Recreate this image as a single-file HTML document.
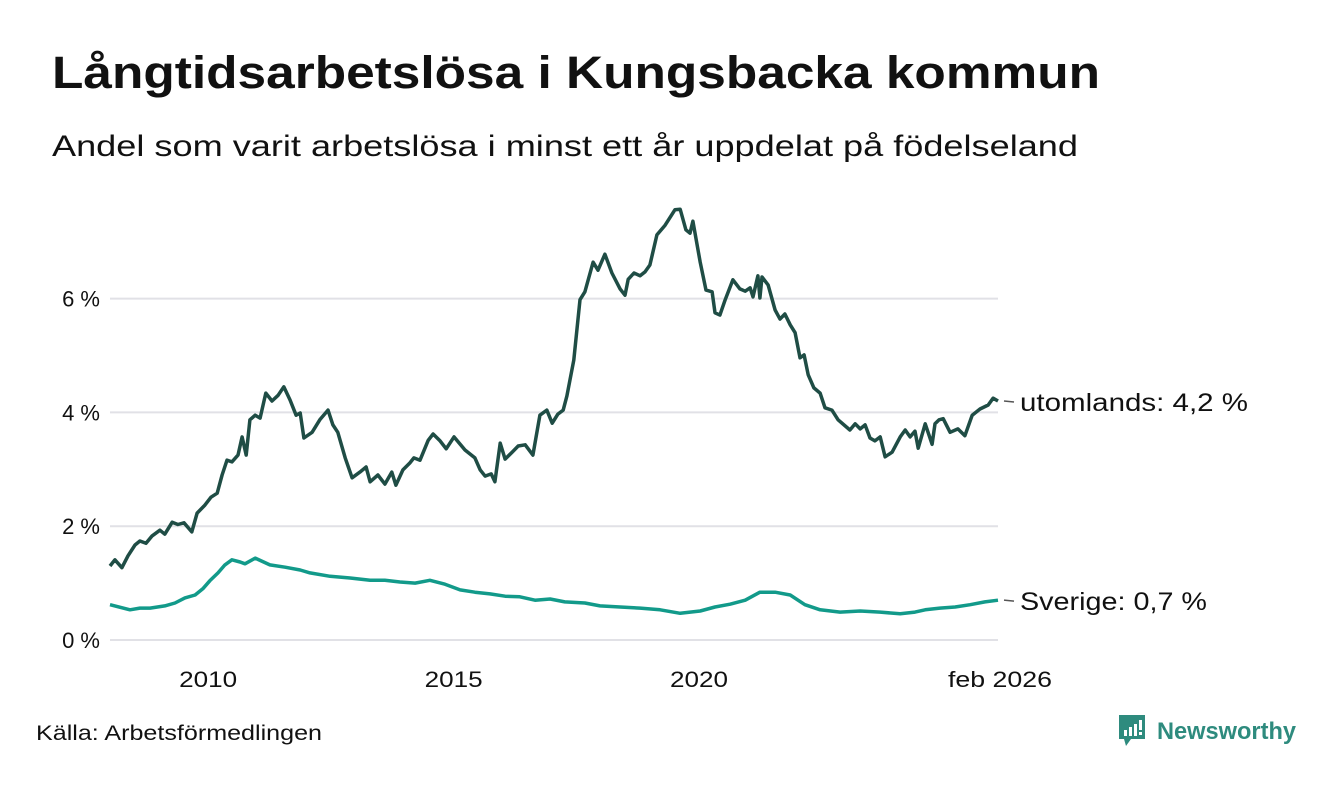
<!DOCTYPE html>
<html><head><meta charset="utf-8"><style>
body{margin:0;background:#fff;width:1340px;height:780px;overflow:hidden;font-family:"Liberation Sans",sans-serif;}
</style></head><body>
<svg width="1340" height="780" xmlns="http://www.w3.org/2000/svg" id="svg">
<text x="52" y="88" font-size="45" font-weight="bold" fill="#111" textLength="1048" lengthAdjust="spacingAndGlyphs">Långtidsarbetslösa i Kungsbacka kommun</text>
<text x="52" y="156" font-size="30" fill="#111" textLength="1026" lengthAdjust="spacingAndGlyphs">Andel som varit arbetslösa i minst ett år uppdelat på födelseland</text>
<g id="grid"></g><g id="lines"></g>
<text x="36" y="740" font-size="21" fill="#111" textLength="286" lengthAdjust="spacingAndGlyphs">Källa: Arbetsförmedlingen</text>
<g>
<path d="M1119 715h26v24h-14l-5 7-2-7h-5z" fill="#2e8b7e"/>
<rect x="1124" y="730" width="3" height="6" fill="#fff"/><rect x="1129" y="727" width="3" height="9" fill="#fff"/><rect x="1134" y="724" width="3" height="12" fill="#fff"/><rect x="1139" y="720" width="3" height="10" fill="#fff"/><rect x="1139" y="732" width="3" height="3" fill="#fff"/>
<text x="1157" y="739" font-size="24" font-weight="bold" fill="#2e8b7e" textLength="139" lengthAdjust="spacingAndGlyphs">Newsworthy</text>
</g>
</svg>
<script>
const yTicks=[0,2,4,6];
const yTickLabels=["0 %","2 %","4 %","6 %"];
const xTickMonths=[24,84,144,217.1];
const xTickLabels=["2010","2015","2020","feb 2026"];
const utMonths=[0,1.2,2.9,4.4,6.1,7.3,8.8,10.3,12.2,13.4,15.2,16.6,18.1,20,21.3,23.2,24.7,26.2,27.4,28.6,29.8,31.3,32.3,33.3,34.2,35.5,36.7,38.1,39.6,41.1,42.5,44,45.5,46.5,47.4,49.4,51.3,53.3,54.5,55.7,57.5,59.2,61.1,62.6,63.6,65.5,67.2,68.9,69.9,71.6,73.3,74.3,75.8,77.8,79,80.7,82.2,84.1,86.8,89.2,90.5,91.7,93.2,94.1,95.4,96.6,98.3,99.8,101.5,103.4,105.1,106.8,108.1,109.5,110.8,111.7,113.4,114.9,116.1,118.1,119.3,121,122.7,124.7,125.9,126.7,128.1,129.6,130.8,132,133.7,135.7,138.1,139.4,140.8,141.8,142.5,144.3,145.7,147.2,147.9,149.1,150.4,152.3,154,155.3,156.5,157.2,158.4,158.9,159.4,160.9,162.6,163.8,165,166.3,167.5,168.7,169.7,170.7,172.1,173.6,174.8,176.5,178,180.9,182.2,183.4,184.6,185.8,187,188.3,189.5,191.2,193.2,194.4,195.6,196.8,197.6,199.3,201,201.7,202.7,203.7,205.4,207.3,209,210.8,212.7,214.7,215.9,217.1];
const utValues=[1.30,1.41,1.27,1.48,1.67,1.74,1.70,1.83,1.93,1.86,2.07,2.03,2.06,1.90,2.23,2.37,2.51,2.58,2.90,3.16,3.13,3.25,3.57,3.25,3.87,3.95,3.90,4.34,4.20,4.30,4.45,4.22,3.95,3.99,3.55,3.65,3.87,4.04,3.78,3.65,3.20,2.85,2.95,3.04,2.78,2.90,2.74,2.95,2.72,2.99,3.11,3.20,3.16,3.51,3.62,3.50,3.36,3.57,3.34,3.20,2.99,2.88,2.92,2.78,3.46,3.18,3.30,3.41,3.43,3.25,3.95,4.04,3.81,3.97,4.04,4.29,4.92,5.98,6.12,6.64,6.50,6.78,6.45,6.17,6.06,6.34,6.45,6.40,6.47,6.59,7.12,7.29,7.56,7.57,7.21,7.15,7.36,6.64,6.15,6.12,5.75,5.71,5.98,6.33,6.17,6.13,6.19,6.03,6.40,6.01,6.38,6.24,5.80,5.64,5.73,5.54,5.40,4.96,5.01,4.66,4.43,4.34,4.08,4.04,3.87,3.69,3.80,3.71,3.78,3.55,3.50,3.57,3.22,3.30,3.57,3.69,3.57,3.67,3.37,3.80,3.44,3.80,3.87,3.89,3.65,3.71,3.59,3.95,4.06,4.13,4.25,4.20];
const seMonths=[0,4.9,7.3,9.8,13.4,15.9,18.3,20.8,22.7,24.4,26.4,28.1,29.8,31.8,33,35.5,39.1,42.8,46.5,48.9,53.8,58.7,63.6,67.2,70.9,74.6,78.2,81.9,85.6,89.2,92.9,96.6,100.2,103.9,107.6,111.2,116.1,119.8,124.7,129.6,134.5,139.4,144.3,147.9,151.6,155.3,158.9,162.6,166.3,169.9,173.6,178.5,183.4,188.3,193.2,196.8,199.3,202.9,206.6,210.3,213.9,217.1];
const seValues=[0.62,0.53,0.56,0.56,0.60,0.65,0.74,0.79,0.90,1.04,1.18,1.32,1.41,1.37,1.34,1.44,1.32,1.28,1.23,1.18,1.12,1.09,1.05,1.05,1.02,1.00,1.05,0.98,0.88,0.84,0.81,0.77,0.76,0.70,0.72,0.67,0.65,0.60,0.58,0.56,0.53,0.47,0.51,0.58,0.63,0.70,0.84,0.84,0.79,0.62,0.53,0.49,0.51,0.49,0.46,0.49,0.53,0.56,0.58,0.62,0.67,0.70];
const ns="http://www.w3.org/2000/svg";
const X=m=>110+m*(888/217.1);
const Y=v=>640-v*56.9;
const grid=document.getElementById('grid'),lines=document.getElementById('lines');
function mk(tag,attrs,parent){const e=document.createElementNS(ns,tag);for(const k in attrs)e.setAttribute(k,attrs[k]);parent.appendChild(e);return e;}
yTicks.forEach((t,i)=>{
 const l=mk('line',{x1:110,x2:998,y1:Y(t),y2:Y(t),stroke:'#e1e1e6','stroke-width':2},grid);
 
 
 const tx=mk('text',{x:100,y:Y(t)+8,'font-size':22,fill:'#111','text-anchor':'end'},grid);
 tx.textContent=yTickLabels[i];
 
 
});
xTickMonths.forEach((m,i)=>{
 const tx=mk('text',{x:X(m)+(i==3?2:0),y:687,'font-size':22,fill:'#111','text-anchor':'middle',textLength:(i==3?104:58),lengthAdjust:'spacingAndGlyphs'},grid);
 tx.textContent=xTickLabels[i];
 
 
});
function line(ms,vs,color,name,label,tl){
 const d=ms.map((m,i)=>(i?'L':'M')+X(m).toFixed(1)+' '+Y(vs[i]).toFixed(1)).join('');
 const p=mk('path',{d:d,fill:'none',stroke:color,'stroke-width':3.5,'stroke-linejoin':'round'},lines);
 
 
 const last=vs[vs.length-1],ly=Y(last);
 mk('line',{x1:1004,x2:1014,y1:ly,y2:ly+1,stroke:'#555','stroke-width':1.5},lines);
 const t=mk('text',{x:1020,y:ly+10,'font-size':25,fill:'#111',textLength:tl,lengthAdjust:'spacingAndGlyphs'},lines);
 t.textContent=label+': '+last.toFixed(1).replace('.',',')+' %';
 
 
}
line(seMonths,seValues,'#129a8a','sverige-line','Sverige',187);
line(utMonths,utValues,'#1f4d45','utomlands-line','utomlands',228);
</script>
</body></html>
